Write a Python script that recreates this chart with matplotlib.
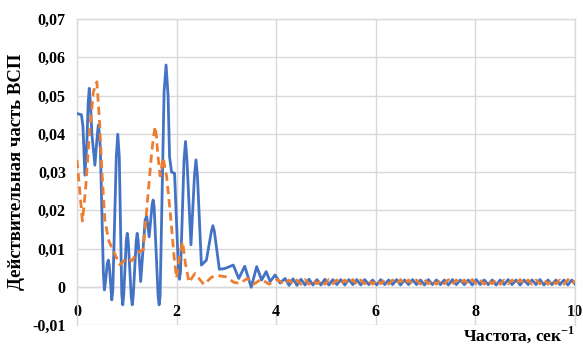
"""Real part of the frequency response (ВСП) vs frequency, two variants."""

import matplotlib
matplotlib.use("Agg")
import matplotlib.pyplot as plt
from matplotlib.ticker import FuncFormatter

# ---------------------------------------------------------------------------
# Data
# ---------------------------------------------------------------------------
blue_f = [0.00, 0.09, 0.12, 0.16, 0.20, 0.225, 0.247, 0.27, 0.30, 0.36,
          0.41, 0.43, 0.45, 0.47, 0.50, 0.53, 0.55, 0.57, 0.61, 0.63,
          0.65, 0.68, 0.70, 0.72, 0.79, 0.82, 0.85, 0.90, 0.92, 0.94,
          0.99, 1.01, 1.03, 1.09, 1.11, 1.13, 1.19, 1.21, 1.23, 1.28,
          1.37, 1.40, 1.45, 1.51, 1.53, 1.55, 1.63, 1.65, 1.67, 1.75,
          1.79, 1.83, 1.86, 1.90, 1.96, 2.04, 2.06, 2.08, 2.15, 2.18,
          2.21, 2.29, 2.36, 2.39, 2.42, 2.50, 2.60, 2.70, 2.73, 2.76,
          2.86, 2.97, 3.14, 3.25, 3.37, 3.50, 3.61, 3.71, 3.80, 3.88,
          3.98, 4.08, 4.18]
blue_v = [0.0453, 0.0450, 0.0420, 0.0292, 0.0380, 0.0480, 0.0519, 0.0480, 0.0400, 0.0318,
          0.0400, 0.0423, 0.0400, 0.0360, 0.0200, 0.0040, -0.0008, 0.0010, 0.0062, 0.0070,
          0.0055, 0.0000, -0.0034, -0.0010, 0.0340, 0.0399, 0.0340, -0.0020, -0.0047, -0.0020,
          0.0120, 0.0140, 0.0120, -0.0025, -0.0047, -0.0025, 0.0120, 0.0140, 0.0120, 0.0014,
          0.0175, 0.0185, 0.0131, 0.0215, 0.0227, 0.0210, -0.0025, -0.0047, -0.0025, 0.0510,
          0.0580, 0.0500, 0.0340, 0.0300, 0.0297, 0.0040, 0.0020, 0.0040, 0.0330, 0.0380,
          0.0330, 0.0110, 0.0290, 0.0332, 0.0290, 0.0057, 0.0070, 0.0145, 0.0160, 0.0145,
          0.0046, 0.0048, 0.0057, 0.0022, 0.0054, -0.0001, 0.0053, 0.0018, 0.0040, 0.0014,
          0.0031, 0.0010, 0.0022]

orange_f = [0.00, 0.05, 0.11, 0.17, 0.25, 0.33, 0.40, 0.45, 0.50, 0.56,
            0.64, 0.73, 0.86, 1.00, 1.10, 1.20, 1.33, 1.43, 1.50, 1.54,
            1.57, 1.60, 1.62, 1.67, 1.73, 1.80, 1.87, 1.95, 2.00, 2.06,
            2.12, 2.18, 2.25, 2.37, 2.55, 2.70, 2.81, 3.00, 3.15, 3.27,
            3.42, 3.55, 3.70, 3.86, 4.02, 4.18]
orange_v = [0.0332, 0.0260, 0.0172, 0.0250, 0.0400, 0.0510, 0.0536, 0.0440, 0.0305, 0.0175,
            0.0120, 0.0094, 0.0058, 0.0075, 0.0068, 0.0088, 0.0097, 0.0245, 0.0350, 0.0395,
            0.0419, 0.0390, 0.0350, 0.0290, 0.0338, 0.0290, 0.0200, 0.0080, 0.0023, 0.0080,
            0.0118, 0.0060, 0.0012, 0.0035, 0.0006, 0.0025, 0.0030, 0.0026, 0.0012, 0.0009,
            0.0022, 0.0007, 0.0020, 0.0007, 0.0019, 0.0007]

# shared frequency grid of the small ripple tail
tail_f = [4.26, 4.34, 4.42, 4.50, 4.58, 4.66, 4.74, 4.82, 4.90, 4.98,
          5.06, 5.14, 5.22, 5.30, 5.38, 5.46, 5.54, 5.62, 5.70, 5.78,
          5.86, 5.94, 6.02, 6.10, 6.18, 6.26, 6.34, 6.42, 6.50, 6.58,
          6.66, 6.74, 6.82, 6.90, 6.98, 7.06, 7.14, 7.22, 7.30, 7.38,
          7.46, 7.54, 7.62, 7.70, 7.78, 7.86, 7.94, 8.02, 8.10, 8.18,
          8.26, 8.34, 8.42, 8.50, 8.58, 8.66, 8.74, 8.82, 8.90, 8.98,
          9.06, 9.14, 9.22, 9.30, 9.38, 9.46, 9.54, 9.62, 9.70, 9.78,
          9.86, 9.94, 10.0]
blue_tail_v = [0.0004, 0.0021, 0.0004, 0.0020, 0.0005, 0.0020, 0.0005, 0.0019, 0.0005, 0.0020,
               0.0005, 0.0019, 0.0006, 0.0019, 0.0005, 0.0019, 0.0006, 0.0019, 0.0005, 0.0019,
               0.0006, 0.0018, 0.0005, 0.0019, 0.0006, 0.0018, 0.0006, 0.0019, 0.0005, 0.0018,
               0.0006, 0.0019, 0.0006, 0.0018, 0.0005, 0.0019, 0.0006, 0.0018, 0.0006, 0.0018,
               0.0005, 0.0019, 0.0006, 0.0018, 0.0006, 0.0018, 0.0005, 0.0019, 0.0006, 0.0018,
               0.0006, 0.0018, 0.0005, 0.0018, 0.0006, 0.0019, 0.0006, 0.0018, 0.0005, 0.0018,
               0.0006, 0.0018, 0.0006, 0.0019, 0.0005, 0.0018, 0.0006, 0.0018, 0.0006, 0.0018,
               0.0005, 0.0018, 0.0008]
orange_tail_v = [0.0018, 0.0007, 0.0018, 0.0007, 0.0019, 0.0007, 0.0018, 0.0008, 0.0018, 0.0007,
                 0.0019, 0.0008, 0.0018, 0.0007, 0.0018, 0.0008, 0.0019, 0.0007, 0.0018, 0.0008,
                 0.0018, 0.0007, 0.0019, 0.0008, 0.0018, 0.0007, 0.0018, 0.0008, 0.0019, 0.0007,
                 0.0018, 0.0008, 0.0018, 0.0007, 0.0019, 0.0008, 0.0018, 0.0007, 0.0018, 0.0008,
                 0.0019, 0.0007, 0.0018, 0.0008, 0.0018, 0.0007, 0.0019, 0.0008, 0.0018, 0.0007,
                 0.0018, 0.0008, 0.0019, 0.0007, 0.0018, 0.0008, 0.0018, 0.0007, 0.0019, 0.0008,
                 0.0018, 0.0007, 0.0018, 0.0008, 0.0019, 0.0007, 0.0018, 0.0008, 0.0018, 0.0007,
                 0.0019, 0.0008, 0.0016]

x_ticks = [0, 2, 4, 6, 8, 10]
y_ticks = [-0.01, 0.0, 0.01, 0.02, 0.03, 0.04, 0.05, 0.06, 0.07]

x_label = "Частота, сек$^{\\mathbf{-1}}$"
y_label = "Действительная часть ВСП"

BLUE = "#4472C4"
ORANGE = "#ED7D31"
GRID = "#D9D9D9"

plt.rcParams["font.family"] = ["Liberation Serif", "DejaVu Serif"]
plt.rcParams["font.weight"] = "bold"
plt.rcParams["mathtext.fontset"] = "custom"
plt.rcParams["mathtext.rm"] = "Liberation Serif:bold"
plt.rcParams["mathtext.bf"] = "Liberation Serif:bold"


def fmt_y(v, _pos):
    if abs(v) < 1e-9:
        return "0"
    return f"{v:.2f}".replace(".", ",")


fig = plt.figure(figsize=(5.83, 3.47), dpi=100)
ax = fig.add_axes([0.132, 0.063, 0.854, 0.882])

ax.plot(blue_f + tail_f, blue_v + blue_tail_v, color=BLUE, lw=2.0,
        solid_joinstyle="round", zorder=3)
ax.plot(orange_f + tail_f, orange_v + orange_tail_v, color=ORANGE, lw=2.0,
        linestyle=(0, (3, 1.8)), zorder=4)

ax.set_xlim(0, 10)
ax.set_ylim(-0.01, 0.07)
ax.set_xticks(x_ticks)
ax.set_yticks(y_ticks)
ax.yaxis.set_major_formatter(FuncFormatter(fmt_y))
ax.grid(True, color=GRID, lw=1.0, zorder=0)
ax.set_axisbelow(True)

for side in ["top", "right", "left", "bottom"]:
    ax.spines[side].set_color(GRID)
    ax.spines[side].set_linewidth(1.0)
ax.spines["bottom"].set_position(("data", 0))

ax.tick_params(axis="both", length=0, labelsize=11.5)
ax.tick_params(axis="x", pad=12)
ax.tick_params(axis="y", pad=8)

ax.set_ylabel(y_label, fontsize=13.5, fontweight="bold", labelpad=5)
fig.text(0.986, 0.005, x_label, ha="right", va="bottom",
         fontsize=12.5, fontweight="bold")

fig.savefig("out.png", dpi=100)
